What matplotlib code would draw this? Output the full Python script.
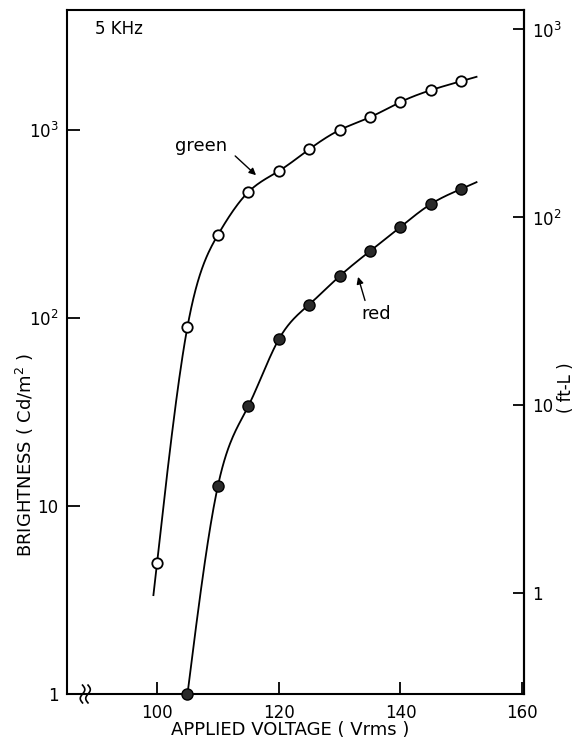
import numpy as np
import matplotlib
matplotlib.use("Agg")
import matplotlib.pyplot as plt
from matplotlib.ticker import NullLocator

# data (brightness in cd/m^2)
volt_green = [100, 105, 110, 115, 120, 125, 130, 135, 140, 145, 150]
bright_green = [5.0, 90, 277, 468, 605, 790, 1000, 1170, 1410, 1630, 1820]
volt_red = [105, 110, 115, 120, 125, 130, 135, 140, 145, 150]
bright_red = [1.0, 12.8, 34, 77, 118, 167, 227, 305, 404, 486]

xticks = [100, 120, 140, 160]
yticks = [1, 10, 100, 1000]
ytick_labels = ['1', '10', '10$^2$', '10$^3$']
ftl_ticks = [1, 10, 100, 1000]
ftl_labels = ['1', '10', '10$^2$', '10$^3$']

CD_PER_FTL = 3.426  # 1 ft-L in cd/m^2


def smooth_curve(x, y, lo, hi, n=300):
    # natural cubic spline of log10(y) against x, drawn from lo to hi
    x = np.asarray(x, float)
    ly = np.log10(y)
    h = np.diff(x)
    m = len(x)
    A = np.zeros((m, m))
    r = np.zeros(m)
    A[0, 0] = A[-1, -1] = 1.0
    for i in range(1, m - 1):
        A[i, i - 1] = h[i - 1]
        A[i, i] = 2 * (h[i - 1] + h[i])
        A[i, i + 1] = h[i]
        r[i] = 6 * ((ly[i + 1] - ly[i]) / h[i] - (ly[i] - ly[i - 1]) / h[i - 1])
    M = np.linalg.solve(A, r)
    xs = np.linspace(lo, hi, n)
    k = np.clip(np.searchsorted(x, xs) - 1, 0, m - 2)
    hk = h[k]
    a = x[k + 1] - xs
    b = xs - x[k]
    s = (M[k] * a ** 3 / (6 * hk) + M[k + 1] * b ** 3 / (6 * hk)
         + (ly[k] / hk - M[k] * hk / 6) * a + (ly[k + 1] / hk - M[k + 1] * hk / 6) * b)
    return xs, 10 ** s


plt.rcParams['font.family'] = 'DejaVu Sans'
plt.rcParams['mathtext.fontset'] = 'dejavusans'

fig = plt.figure(figsize=(5.76, 7.43), dpi=100)
ax = fig.add_axes([67 / 576, 1 - 694 / 743, 457 / 576, 684 / 743])

ax.set_yscale('log')
ax.set_xlim(85.2, 160.3)
ax.set_ylim(1, 4350)

gx, gy = smooth_curve(volt_green, bright_green, 99.4, 152.5)
rx, ry = smooth_curve(volt_red, bright_red, 105, 152.5)
ax.plot(gx, gy, color='k', lw=1.3, zorder=2)
ax.plot(rx, ry, color='k', lw=1.3, zorder=2)
ax.plot(volt_green, bright_green, 'o', ms=7.5, mfc='white', mec='k', mew=1.3, zorder=3)
ax.plot(volt_red, bright_red, 'o', ms=8, mfc='#2a2a2a', mec='k', mew=1.0, zorder=3,
        clip_on=False)

for s in ax.spines.values():
    s.set_linewidth(1.5)

ax.set_xticks(xticks)
ax.set_xticklabels([str(v) for v in xticks])
ax.set_yticks(yticks)
ax.set_yticklabels(ytick_labels)
ax.yaxis.set_minor_locator(NullLocator())
ax.tick_params(direction='in', length=9, width=1.3, labelsize=12)
ax.tick_params(axis='x', pad=7)
ax.tick_params(axis='y', pad=6)

sec = ax.secondary_yaxis('right', functions=(lambda v: v / CD_PER_FTL,
                                              lambda v: v * CD_PER_FTL))
sec.set_yticks(ftl_ticks)
sec.set_yticklabels(ftl_labels)
sec.yaxis.set_minor_locator(NullLocator())
sec.tick_params(direction='in', length=8, width=1.3, labelsize=12, pad=6)
sec.spines['right'].set_linewidth(1.5)

# axis break marks near the left end of the x axis
tt = np.linspace(-1, 1, 30)
for x0 in (0.034, 0.046):
    ax.plot(x0 + 0.005 * np.sin(np.pi * tt), 0.013 * tt, color='k', lw=1.2,
            transform=ax.transAxes, clip_on=False, zorder=4)

ax.text(0.114, 0.972, '5 KHz', transform=ax.transAxes, ha='center', va='center',
        fontsize=12)

ax.text(107.2, 822, 'green', ha='center', va='center', fontsize=13)
ax.annotate('', xy=(116.6, 562), xytext=(112.5, 745),
            arrowprops=dict(arrowstyle='-|>', color='k', lw=1.0, mutation_scale=10))
ax.text(133.6, 105, 'red', ha='left', va='center', fontsize=13)
ax.annotate('', xy=(132.9, 171), xytext=(134.3, 120),
            arrowprops=dict(arrowstyle='-|>', color='k', lw=1.0, mutation_scale=10))

fig.text(25 / 576, 1 - 455 / 743, 'BRIGHTNESS ( Cd/m$^2$ )', rotation=90,
         ha='center', va='center', fontsize=13)
fig.text(290 / 576, 1 - 730 / 743, 'APPLIED VOLTAGE ( Vrms )', ha='center',
         va='center', fontsize=13)
fig.text(566 / 576, 1 - 388 / 743, '( ft-L )', rotation=90, ha='center',
         va='center', fontsize=12)

fig.savefig('out.png', dpi=100)
